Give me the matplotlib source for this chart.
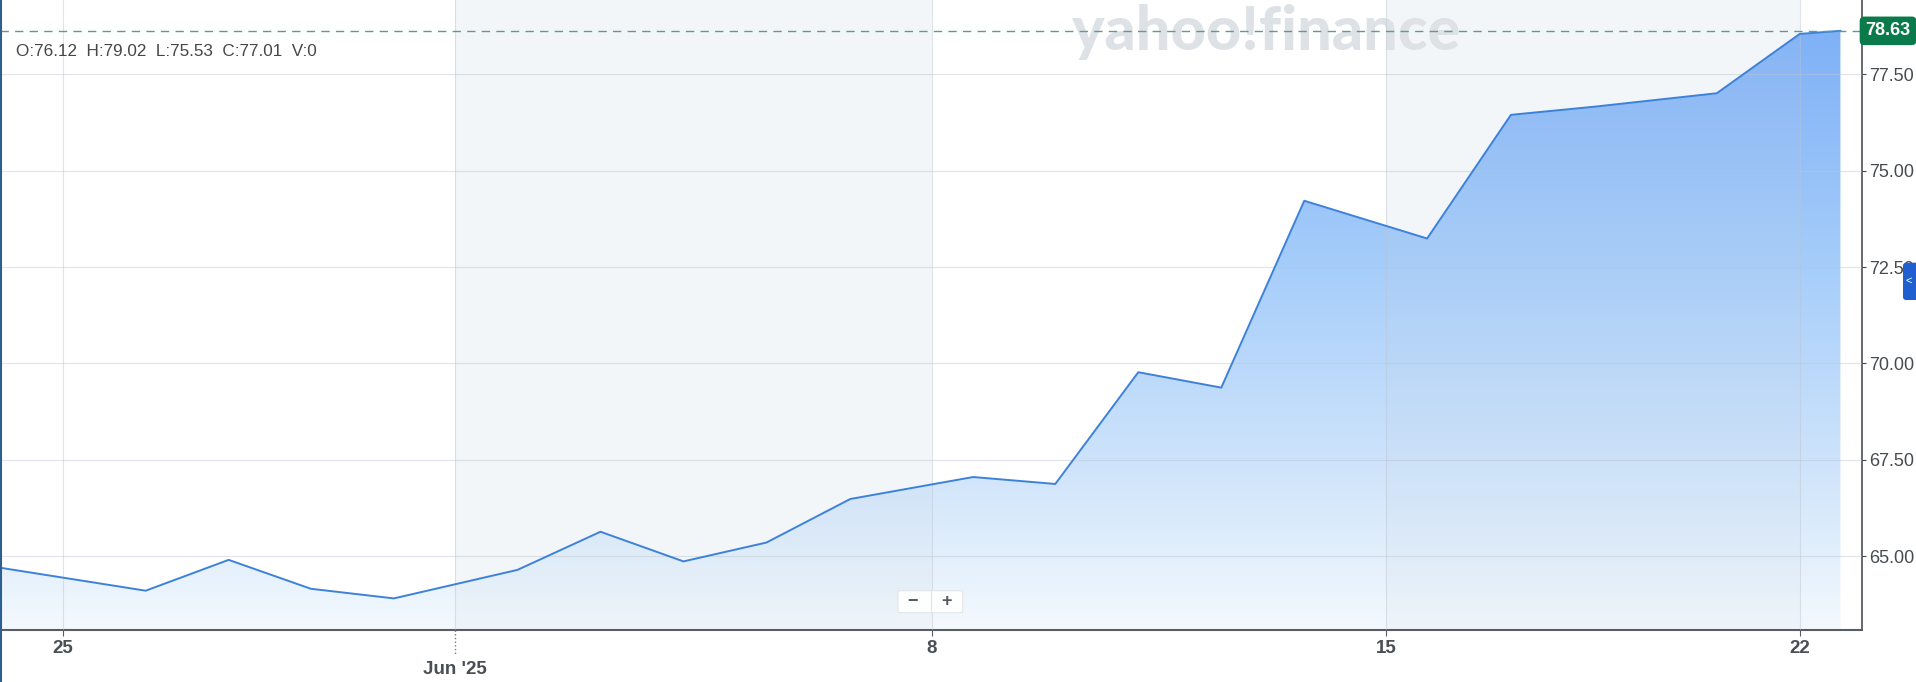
import matplotlib
matplotlib.use('Agg')
import matplotlib.pyplot as plt
import matplotlib.transforms as mtransforms
import numpy as np
from matplotlib.colors import LinearSegmentedColormap
from matplotlib.patches import Polygon, FancyBboxPatch
from matplotlib.lines import Line2D

plt.rcParams['font.family'] = ['Liberation Sans', 'DejaVu Sans']

W, H = 1916, 682

# daily closes; slot = position of the session on the chart's x axis
session = ['May 23', 'May 27', 'May 28', 'May 29', 'May 30', 'Jun 2', 'Jun 3', 'Jun 4',
           'Jun 5', 'Jun 6', 'Jun 9', 'Jun 10', 'Jun 11', 'Jun 12', 'Jun 13', 'Jun 16',
           'Jun 17', 'Jun 18', 'Jun 20', 'Jun 23', 'now']
slot = [-2.0, 0.0, 1.0, 1.99, 2.99, 4.48, 5.48, 6.48,
        7.48, 8.49, 9.97, 10.96, 11.96, 12.96, 13.96, 15.44,
        16.45, 17.45, 18.93, 19.93, 20.42]
close = [64.78, 64.10, 64.90, 64.15, 63.90, 64.64, 65.63, 64.86,
         65.35, 66.48, 67.05, 66.87, 69.77, 69.37, 74.22, 73.24,
         76.45, 76.66, 77.01, 78.55, 78.63]
last_price = 78.63
ohlc_text = 'O:76.12  H:79.02  L:75.53  C:77.01  V:0'

week_ticks = [-1.0, 9.47, 14.95, 19.93]
week_labels = ['25', '8', '15', '22']
month_tick = 3.73
month_label = "Jun '25"
shaded_weeks = [(3.73, 9.47), (14.95, 19.93)]
y_ticks = [65.0, 67.5, 70.0, 72.5, 75.0, 77.5]
x_range = (-1.755, 20.68)
y_range = (63.08, 79.43)

fig = plt.figure(figsize=(W / 100, H / 100), dpi=100)
ax = fig.add_axes([0, 52 / H, 1862 / W, 630 / H])
ax.set_xlim(*x_range)
ax.set_ylim(*y_range)

# alternating week bands (behind everything)
for a, b in shaded_weeks:
    ax.axvspan(a, b, color='#f3f6f9', lw=0, zorder=0.5)

# gradient area fill under the line
fill_cmap = LinearSegmentedColormap.from_list('fill', [
    (0.0, '#f4f9fe'), (0.12, '#e2effc'), (0.27, '#cde3fb'),
    (0.58, '#a6cdfa'), (0.95, '#7fb1f7'), (1.0, '#79adf6')])
grad = np.linspace(0, 1, 256).reshape(-1, 1)
im = ax.imshow(grad, extent=[x_range[0], x_range[1], y_range[0], y_range[1]],
               origin='lower', aspect='auto', cmap=fill_cmap, zorder=1)
verts = [(slot[0], y_range[0])] + list(zip(slot, close)) + [(slot[-1], y_range[0])]
clip = Polygon(verts, closed=True, facecolor='none', edgecolor='none')
ax.add_patch(clip)
im.set_clip_path(clip)

# light tint of the week bands over the fill only
for a, b in shaded_weeks:
    tint = ax.axvspan(a, b, color='#c9d3de', alpha=0.10, lw=0, zorder=1.2)
    tint.set_clip_path(clip)

ax.plot(slot, close, color='#3d82da', lw=1.4, zorder=3)
ax.axhline(last_price, color='#5c9c90', lw=1.0, ls=(0, (6, 4.5)), zorder=4)

# grid + axes
ax.set_axisbelow(False)
ax.grid(True, which='both', color='#bcc4cd', alpha=0.45, lw=0.8)
for s in ['top', 'left']:
    ax.spines[s].set_visible(False)
ax.spines['right'].set_color('#3c4045')
ax.spines['right'].set_linewidth(1.1)
ax.spines['bottom'].set_color('#585d63')
ax.spines['bottom'].set_linewidth(1.5)

ax.yaxis.tick_right()
ax.set_yticks(y_ticks)
ax.set_yticklabels([f'{v:.2f}' for v in y_ticks])
ax.tick_params(axis='y', direction='out', length=3, width=0.8, color='#464b50',
               pad=2, labelsize=13, labelcolor='#464b50')

ax.set_xticks(week_ticks)
ax.set_xticklabels(week_labels, fontweight='bold')
ax.set_xticks([month_tick], minor=True)
ax.set_xticklabels([month_label], minor=True, fontweight='bold')
ax.tick_params(axis='x', which='major', direction='out', length=4, width=0.8,
               color='#585d63', pad=3.5, labelsize=13.5, labelcolor='#4a4f55')
ax.tick_params(axis='x', which='minor', length=0, pad=22, labelsize=13.5,
               labelcolor='#4a4f55')
ax.plot([month_tick, month_tick], [0, -0.04], transform=ax.get_xaxis_transform(),
        clip_on=False, ls=':', color='#777b80', lw=1)

# last price tag
tag_tr = mtransforms.blended_transform_factory(ax.transAxes, ax.transData)
ax.text(1888 / 1862, last_price, f'{last_price:.2f}', transform=tag_tr, ha='center',
        va='center', color='white', fontweight='bold', fontsize=13, zorder=10,
        clip_on=False,
        bbox=dict(boxstyle='round,pad=0.32,rounding_size=0.25', fc='#0b7a4b', ec='none'))

# header readout and watermark
fig.text(16 / W, (H - 51) / H, ohlc_text, ha='left', va='center', fontsize=12.3,
         color='#464646')
ax.text(1266.5 / W, (H - 50) / H, 'yahoo!finance', transform=fig.transFigure,
        ha='center', va='baseline', fontsize=44, fontweight=900, family='Lato',
        color='#dee2e7', zorder=1.5)

# chart chrome
px = mtransforms.Affine2D().scale(1 / W, 1 / H) + fig.transFigure
fig.add_artist(Line2D([1, 1], [0, H], transform=px, color='#2f5f8f', lw=1.5))
fig.add_artist(FancyBboxPatch((898, H - 612.7), 64.7, 22, transform=px,
                              boxstyle='round,pad=0,rounding_size=2',
                              fc='white', ec='#e1e4e8', lw=0.8, alpha=0.95))
fig.add_artist(Line2D([930.7, 930.7], [H - 612.7, H - 590.7], transform=px,
                      color='#e1e4e8', lw=0.8))
fig.text(913 / W, (H - 601.5) / H, '\u2212', ha='center', va='center', fontsize=13,
         fontweight='bold', color='#555a60')
fig.text(947 / W, (H - 601.5) / H, '+', ha='center', va='center', fontsize=13,
         fontweight='bold', color='#555a60')
fig.add_artist(FancyBboxPatch((1903, H - 300), 20, 37.3, transform=px,
                              boxstyle='round,pad=0,rounding_size=3',
                              fc='#1f5fcf', ec='none'))
fig.text(1905 / W, (H - 281) / H, '<', ha='left', va='center', fontsize=8,
         color='white')

plt.savefig('out.png', dpi=100)
